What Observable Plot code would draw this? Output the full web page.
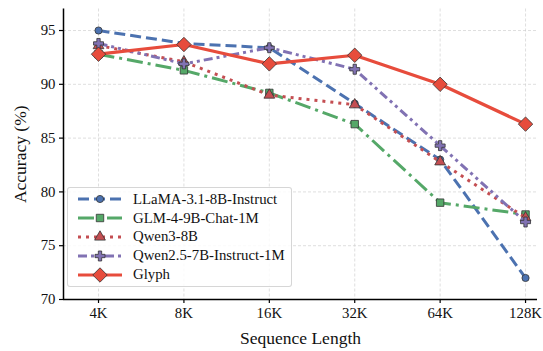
<!DOCTYPE html>
<html>
<head>
<script src="https://cdn.jsdelivr.net/npm/d3@7"></script>
<script src="https://cdn.jsdelivr.net/npm/@observablehq/plot@0.6"></script>
<style>
  html, body { margin: 0; padding: 0; background: #fff; }
  #wrap { position: relative; width: 543px; height: 351px; }
  #legend { position: absolute; left: 67px; top: 187px; background: rgba(255,255,255,0.85); border: 1px solid rgba(204,204,204,0.8); border-radius: 3px; padding: 2px 6px 2px 8px; }
  .row { display: flex; align-items: center; height: 18.8px; font-size: 14.8px; color: #111; white-space: nowrap; }
  .row svg { margin-right: 11px; }
</style>
</head>
<body>
<div id="wrap" style="font-family:'Liberation Serif'"><div id="legend" style="font-family:'Liberation Serif'"></div></div>
<script>
const categories = ["4K", "8K", "16K", "32K", "64K", "128K"];
const seriesNames = ["LLaMA-3.1-8B-Instruct", "GLM-4-9B-Chat-1M", "Qwen3-8B", "Qwen2.5-7B-Instruct-1M", "Glyph"];
const llama = [95.0, 93.8, 93.4, 88.2, 83.0, 72.0];
const glm = [92.8, 91.3, 89.2, 86.3, 79.0, 77.9];
const qwen3 = [93.6, 92.1, 89.0, 88.1, 82.8, 77.6];
const qwen25 = [93.8, 91.9, 93.4, 91.4, 84.3, 77.2];
const glyph = [92.8, 93.7, 91.9, 92.7, 90.0, 86.3];
const yTicks = [70, 75, 80, 85, 90, 95];

const styles = {
  "LLaMA-3.1-8B-Instruct": {color: "#4C72B0", dash: "11,5", symbol: "circle", r: 3.6, width: 3},
  "GLM-4-9B-Chat-1M": {color: "#55A868", dash: "16,5,3,5", symbol: "square", r: 4.2, width: 3},
  "Qwen3-8B": {color: "#C44E52", dash: "3,5", symbol: "triangle", r: 4, width: 3},
  "Qwen2.5-7B-Instruct-1M": {color: "#8172B3", dash: "9,4,3,4,3,4", symbol: "cross", r: 4.2, width: 3},
  "Glyph": {color: "#E74C3C", dash: null, symbol: "diamond2", r: 6.5, width: 3.2}
};
const valuesBy = [llama, glm, qwen3, qwen25, glyph];
const data = seriesNames.flatMap((s, k) => valuesBy[k].map((v, i) => ({series: s, i, cat: categories[i], value: v})));

const xDomain = [-0.41, 5.14];
const yDomain = [70, 97];

const marks = [
  Plot.gridX(d3.range(categories.length), {stroke: "#cccccc", strokeOpacity: 0.8, strokeDasharray: "3,2", strokeWidth: 0.8}),
  Plot.gridY(yTicks, {stroke: "#cccccc", strokeOpacity: 0.8, strokeDasharray: "3,2", strokeWidth: 0.8}),
];
seriesNames.forEach(s => {
  const st = styles[s];
  const d = data.filter(e => e.series === s);
  marks.push(Plot.line(d, {x: "i", y: "value", stroke: st.color, strokeWidth: st.width, strokeDasharray: st.dash, strokeLinecap: "butt", strokeLinejoin: "round"}));
  marks.push(Plot.dot(d, {x: "i", y: "value", fill: st.color, stroke: "#333", strokeWidth: 0.8, symbol: st.symbol, r: st.r}));
});
marks.push(Plot.ruleX([xDomain[0]], {stroke: "#000", strokeWidth: 1.5}));
marks.push(Plot.ruleY([yDomain[0]], {stroke: "#000", strokeWidth: 1.5}));
marks.push(Plot.axisX(d3.range(categories.length), {tickFormat: i => categories[i], tickSize: 4, tickPadding: 4, fontSize: 14.8, label: "Sequence Length", labelAnchor: "center", labelArrow: "none", labelOffset: 44, stroke: "#000", strokeWidth: 1.2}));
marks.push(Plot.axisY(yTicks, {tickSize: 4, tickPadding: 4, fontSize: 14.8, label: "Accuracy (%)", labelAnchor: "center", labelArrow: "none", labelOffset: 50, stroke: "#000", strokeWidth: 1.2}));

const chart = Plot.plot({
  width: 543, height: 351,
  marginLeft: 63, marginRight: 6, marginTop: 8.5, marginBottom: 52,
  style: {fontFamily: "Liberation Serif", fontSize: "16px", color: "#111", background: "transparent"},
  x: {type: "linear", domain: xDomain},
  y: {type: "linear", domain: yDomain},
  marks
});
chart.style.position = "absolute";
chart.style.left = "0"; chart.style.top = "0";
const wrap = document.getElementById("wrap");
wrap.insertBefore(chart, wrap.firstChild);
chart.querySelectorAll('[aria-label="x-axis label"], [aria-label="y-axis label"]').forEach(t => t.setAttribute("font-size", "17.5"));
chart.querySelectorAll("g, text").forEach(t => { t.style.fontFamily = "'Liberation Serif'"; });

// legend
const legend = document.getElementById("legend");
const symPath = {circle: d3.symbolCircle, square: d3.symbolSquare, triangle: d3.symbolTriangle, cross: d3.symbolCross, diamond2: d3.symbolDiamond2};
seriesNames.forEach(s => {
  const st = styles[s];
  const row = document.createElement("div");
  row.className = "row";
  row.style.fontFamily = "'Liberation Serif'";
  const svg = d3.create("svg").attr("width", 46).attr("height", 16);
  svg.append("line").attr("x1", 2).attr("x2", 46).attr("y1", 8).attr("y2", 8)
    .attr("stroke", st.color).attr("stroke-width", st.width).attr("stroke-dasharray", st.dash);
  svg.append("path").attr("transform", "translate(24,8)")
    .attr("d", d3.symbol(symPath[st.symbol], Math.PI * st.r * st.r)())
    .attr("fill", st.color).attr("stroke", "#333").attr("stroke-width", 0.8);
  row.appendChild(svg.node());
  const span = document.createElement("span");
  span.style.fontFamily = "'Liberation Serif'";
  span.textContent = s;
  row.appendChild(span);
  legend.appendChild(row);
});
</script>
</body>
</html>
